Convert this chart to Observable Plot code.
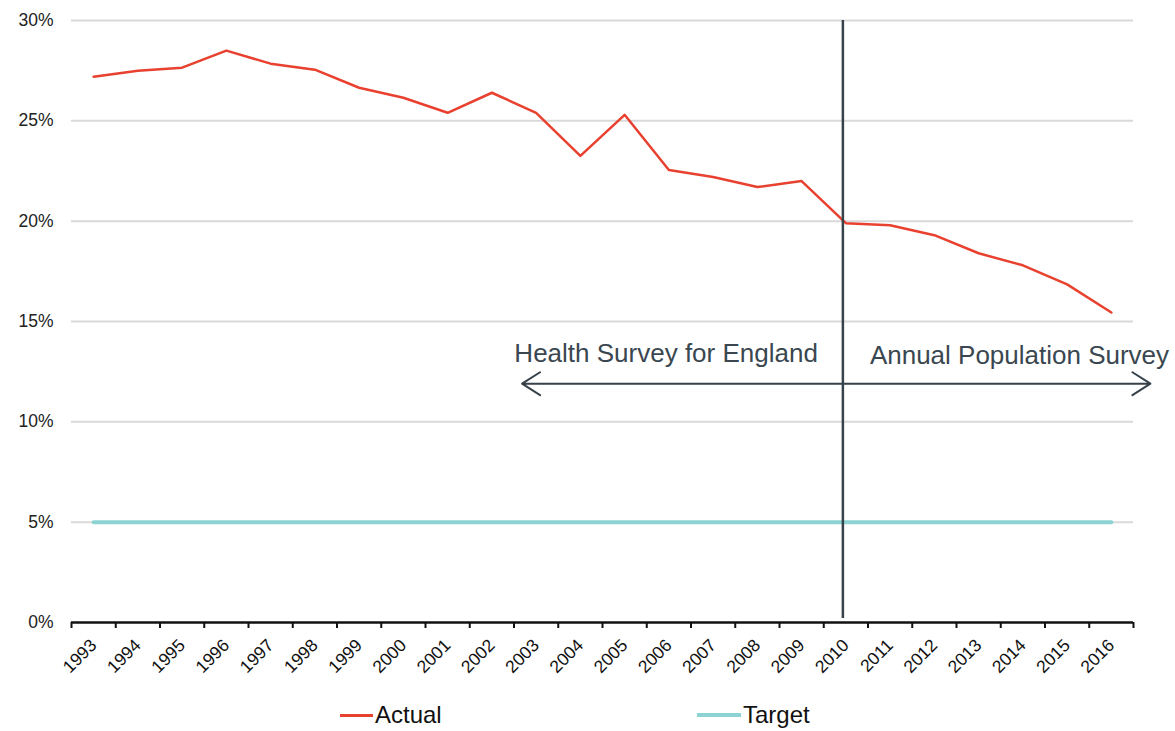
<!DOCTYPE html>
<html>
<head>
<meta charset="utf-8">
<script src="https://cdn.jsdelivr.net/npm/d3@7"></script>
<script src="https://cdn.jsdelivr.net/npm/@observablehq/plot@0.6"></script>
<style>
  body { margin: 0; background: #fff; font-family: "Liberation Sans", Arial, sans-serif; }
  #wrap { position: relative; width: 1175px; height: 731px; overflow: hidden; }
  .leg { position: absolute; top: 701px; font-size: 24px; line-height: 28px; color: #111; display: flex; align-items: center; }
  .sw { display: inline-block; width: 33px; margin-right: 2px; }
</style>
</head>
<body>
<div id="wrap">
  <div id="chart"></div>
  <div class="leg" style="left:340px"><span class="sw" style="border-top:3px solid #e8412f"></span>Actual</div>
  <div class="leg" style="left:697px"><span class="sw" style="width:44px;border-top:4px solid #8dd3d3"></span>Target</div>
</div>
<script>
const years = [1993,1994,1995,1996,1997,1998,1999,2000,2001,2002,2003,2004,2005,2006,2007,2008,2009,2010,2011,2012,2013,2014,2015,2016];
const actual = [27.2,27.5,27.65,28.5,27.85,27.55,26.65,26.15,25.4,26.4,25.4,23.25,25.3,22.55,22.2,21.7,22.0,19.9,19.8,19.3,18.4,17.8,16.85,15.45];
const target = [5,5,5,5,5,5,5,5,5,5,5,5,5,5,5,5,5,5,5,5,5,5,5,5];
const yTicks = [0,5,10,15,20,25,30];
const splitYear = 2010;
const arrowLeftEnd = 2002.75;
const arrowRightEnd = 2016.95;
const labelLeft = "Health Survey for England";
const labelRight = "Annual Population Survey";

const rows = years.map((y, i) => ({year: y, actual: actual[i], target: target[i]}));
const edges = years.map(y => y - 0.5).concat([years[years.length - 1] + 0.5]);

const chart = Plot.plot({
  width: 1175,
  height: 700,
  marginLeft: 71,
  marginRight: 42,
  marginTop: 20,
  marginBottom: 78,
  style: {fontFamily: "Liberation Sans, Arial, sans-serif", background: "white", overflow: "visible"},
  x: {type: "linear", domain: [years[0] - 0.5, years[years.length - 1] + 0.5]},
  y: {domain: [0, 30]},
  marks: [
    Plot.ruleY(yTicks.filter(d => d > 0), {stroke: "#d9d9d9", strokeWidth: 2}),
    Plot.axisY(yTicks, {tickSize: 0, tickPadding: 18, fontSize: 17.5, fill: "#222", tickFormat: d => d + "%", label: null}),
    Plot.line(rows, {x: "year", y: "target", stroke: "#8dd3d3", strokeWidth: 4}),
    Plot.line(rows, {x: "year", y: "actual", stroke: "#e8412f", strokeWidth: 2.5}),
    Plot.ruleY([0], {stroke: "#111", strokeWidth: 2.5}),
    Plot.axisX(edges, {tickSize: 6, strokeWidth: 2, stroke: "#111", tickFormat: () => "", label: null}),
    Plot.axisX(years, {tickSize: 0, tickPadding: 20, tickRotate: -45, fontSize: 17.5, fill: "#111", tickFormat: d => String(d), label: null}),
    Plot.ruleX([splitYear], {y1: 0.2, y2: 30, stroke: "#37424a", strokeWidth: 2.5, dx: -3}),
    Plot.arrow([{a: splitYear, b: arrowLeftEnd}, {a: splitYear, b: arrowRightEnd}], {
      x1: "a", x2: "b", y1: 11.9, y2: 11.9, stroke: "#37424a", strokeWidth: 2, headLength: 16, headAngle: 65, dx: -3
    }),
    Plot.text([labelLeft], {x: splitYear, y: 13.4, text: d => d, textAnchor: "end", dx: -28, fontSize: 26, fill: "#3a4750"}),
    Plot.text([labelRight], {x: splitYear, y: 13.3, text: d => d, textAnchor: "start", dx: 24, fontSize: 26, fill: "#3a4750"})
  ]
});
document.getElementById("chart").appendChild(chart);
</script>
</body>
</html>
